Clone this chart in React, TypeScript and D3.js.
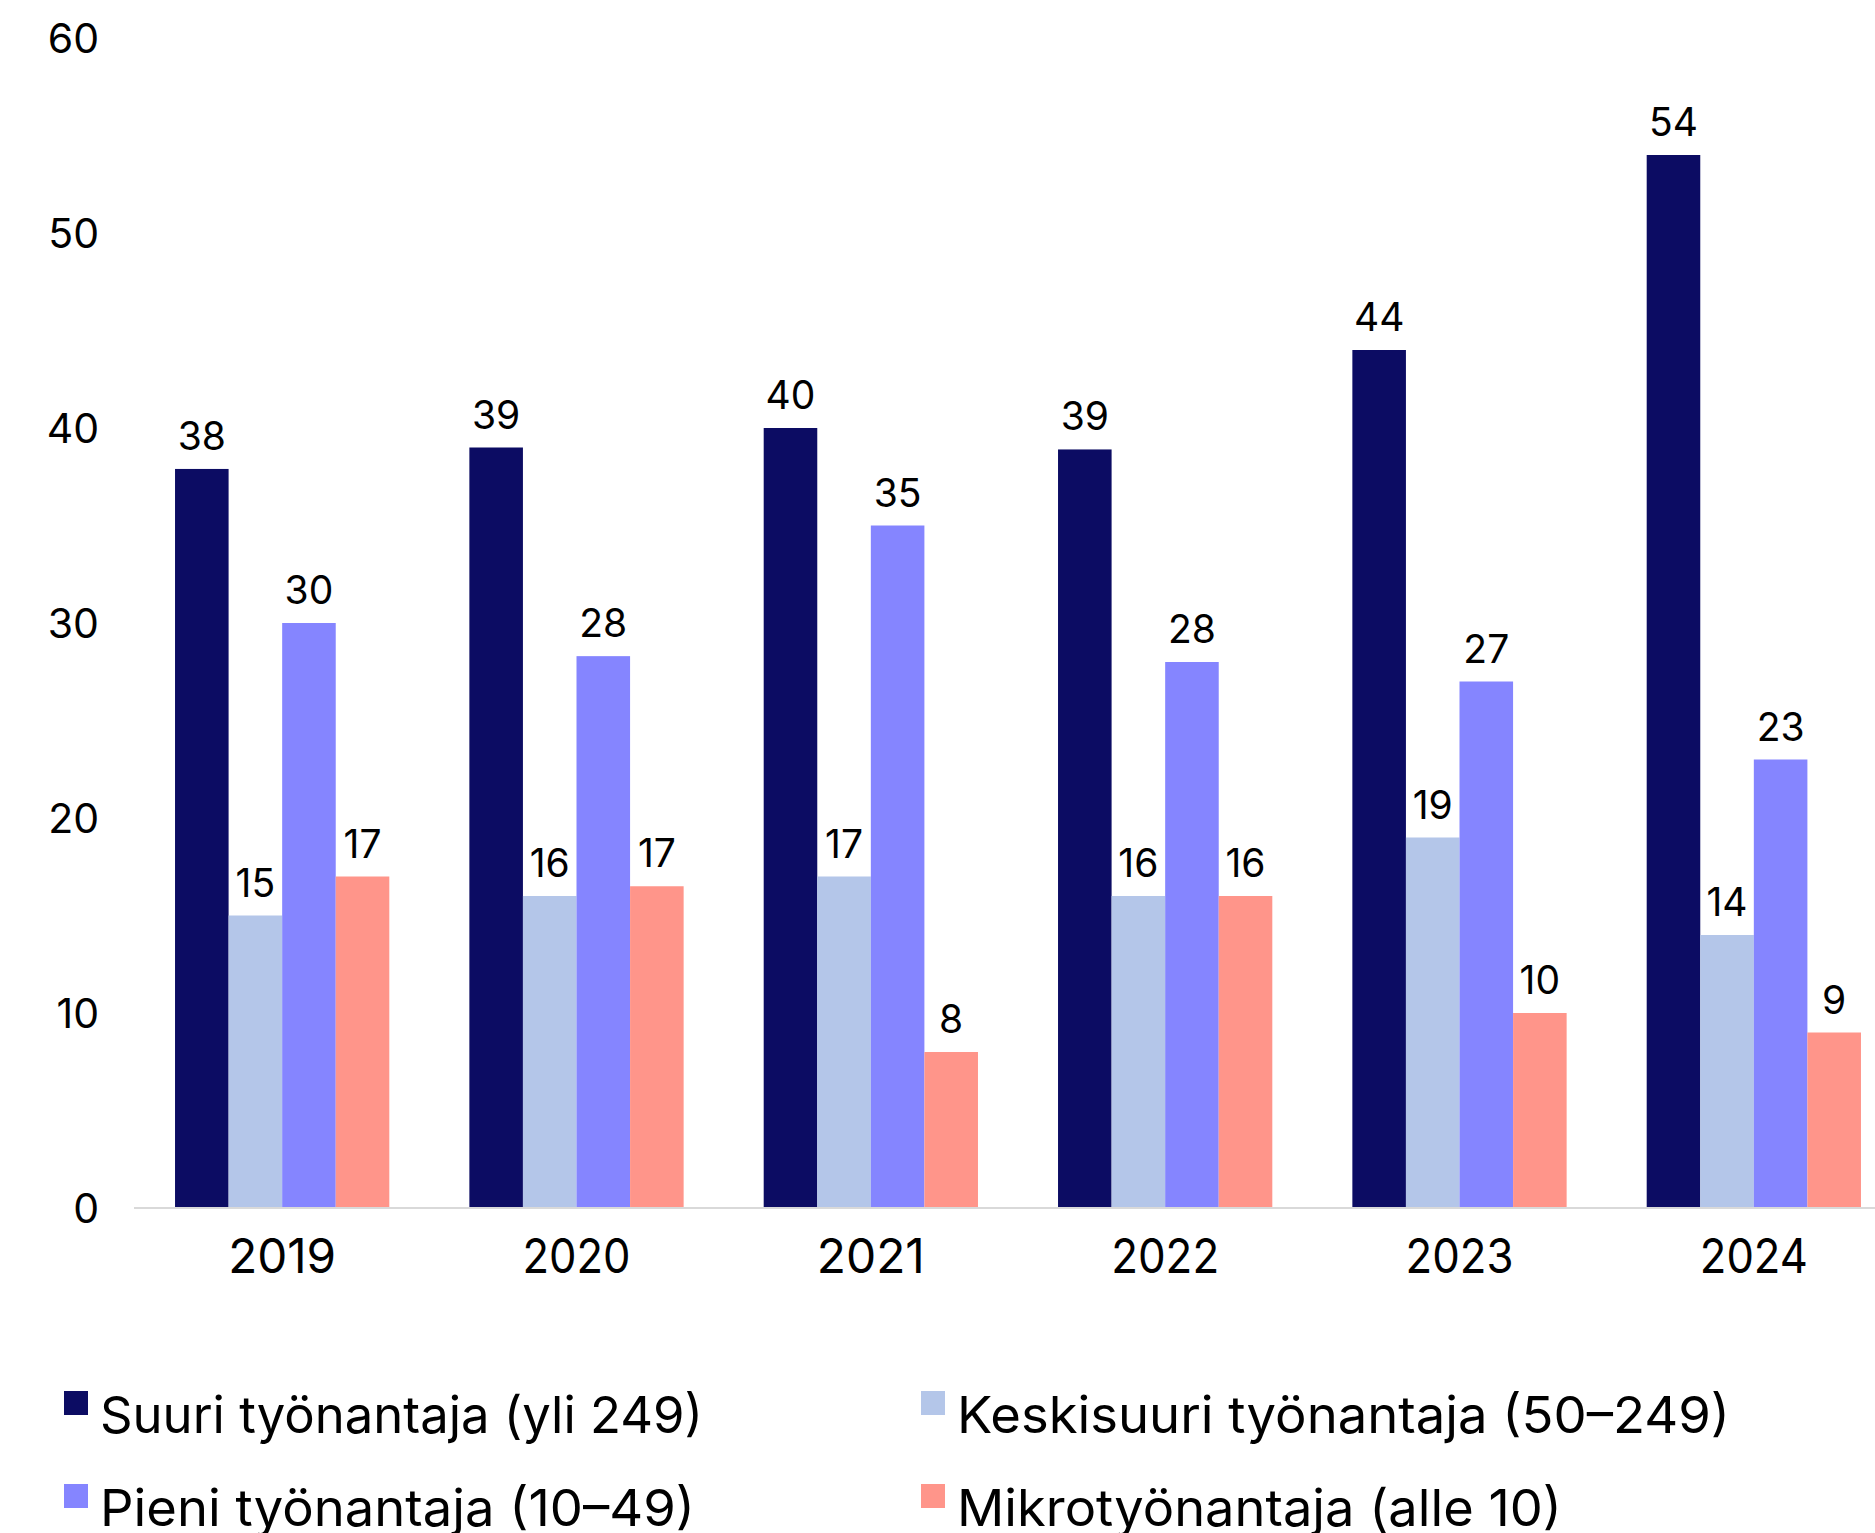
import React from "react";
import * as d3 from "d3";

const years = ["2019", "2020", "2021", "2022", "2023", "2024"];
const seriesNames = [
  "Suuri työnantaja (yli 249)",
  "Keskisuuri työnantaja (50–249)",
  "Pieni työnantaja (10–49)",
  "Mikrotyönantaja (alle 10)",
];
const seriesColors = ["#0c0c63", "#b4c6e9", "#8585ff", "#ff958a"];
const suuri = [37.9, 39, 40, 38.9, 44, 54];
const keskisuuri = [15, 16, 17, 16, 19, 14];
const pieni = [30, 28.3, 35, 28, 27, 23];
const mikro = [17, 16.5, 8, 16, 10, 9];
const yTicks = [0, 10, 20, 30, 40, 50, 60];

const W = 1875;
const H = 1533;
const FONT = "Inter, 'Noto Sans', sans-serif";

export default function App() {
  const values = [suuri, keskisuuri, pieni, mikro];
  const x0 = d3
    .scaleBand<string>()
    .domain(years)
    .range([135, 1901])
    .paddingInner(0.272)
    .paddingOuter(0.136);
  const x1 = d3
    .scaleBand<number>()
    .domain(d3.range(seriesNames.length))
    .range([0, x0.bandwidth()])
    .padding(0);
  const y = d3.scaleLinear().domain([0, 60]).range([1208, 38]);

  const legendPos = [
    { x: 64, y: 1391 },
    { x: 921, y: 1391 },
    { x: 64, y: 1484 },
    { x: 921, y: 1484 },
  ];
  const legendWidths = [603, 773, 595, 605];

  return (
    <svg
      width={W}
      height={H}
      style={{ position: "absolute", left: 0, top: 0, display: "block", background: "#fff" }}
      fontFamily={FONT}
    >
      {/* y tick labels */}
      {yTicks.map((t) => (
        <text key={t} x={99} y={y(t) + 15} textAnchor="end" fontSize={41} fill="#000">
          {t}
        </text>
      ))}
      {/* bars */}
      {years.map((yr, i) => (
        <g key={yr} transform={`translate(${x0(yr)},0)`}>
          {values.map((arr, s) => (
            <rect
              key={s}
              x={x1(s)}
              y={y(arr[i])}
              width={x1.bandwidth()}
              height={y(0) - y(arr[i])}
              fill={seriesColors[s]}
            />
          ))}
          {values.map((arr, s) => (
            <text
              key={"l" + s}
              x={(x1(s) as number) + x1.bandwidth() / 2}
              y={y(arr[i]) - 19}
              textAnchor="middle"
              fontSize={39}
              fill="#000"
            >
              {Math.round(arr[i])}
            </text>
          ))}
        </g>
      ))}
      {/* x axis line */}
      <line x1={134} x2={W} y1={1208} y2={1208} stroke="#d9d9d9" strokeWidth={2} />
      {/* x tick labels */}
      {years.map((yr) => (
        <text
          key={yr}
          x={(x0(yr) as number) + x0.bandwidth() / 2}
          y={1273}
          textAnchor="middle"
          fontSize={48}
          fill="#000"
          textLength={108}
          lengthAdjust="spacingAndGlyphs"
        >
          {yr}
        </text>
      ))}
      {/* legend */}
      {seriesNames.map((name, s) => (
        <g key={name}>
          <rect x={legendPos[s].x} y={legendPos[s].y} width={24} height={24} fill={seriesColors[s]} />
          <text
            x={legendPos[s].x + 36}
            y={legendPos[s].y + 42}
            fontSize={51}
            fill="#000"
            textLength={legendWidths[s]}
            lengthAdjust="spacingAndGlyphs"
          >
            {name}
          </text>
        </g>
      ))}
    </svg>
  );
}
